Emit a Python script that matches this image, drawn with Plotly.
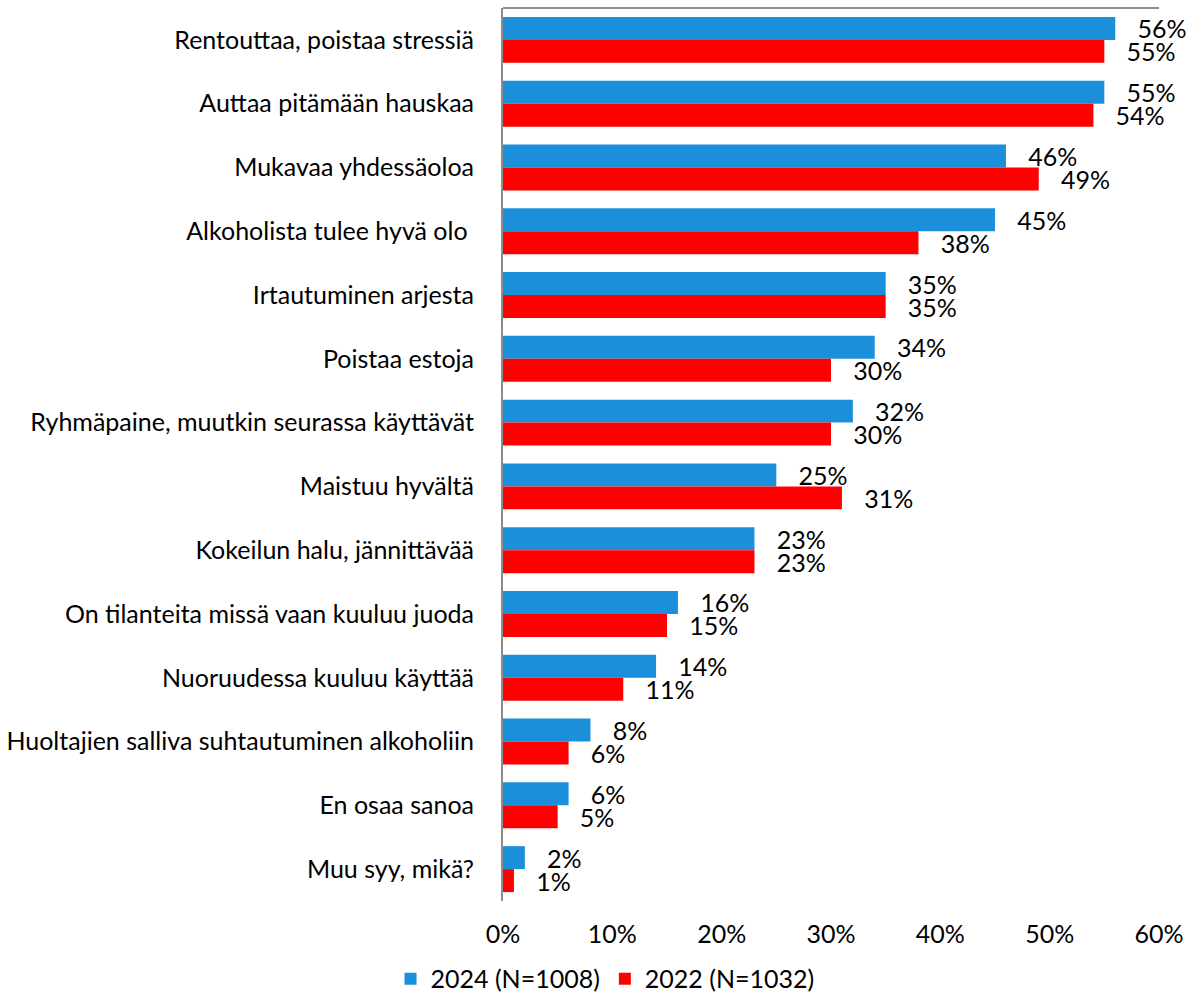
import plotly.graph_objects as go

categories = [
    "Rentouttaa, poistaa stressiä",
    "Auttaa pitämään hauskaa",
    "Mukavaa yhdessäoloa",
    "Alkoholista tulee hyvä olo ",
    "Irtautuminen arjesta",
    "Poistaa estoja",
    "Ryhmäpaine, muutkin seurassa käyttävät",
    "Maistuu hyvältä",
    "Kokeilun halu, jännittävää",
    "On tilanteita missä vaan kuuluu juoda",
    "Nuoruudessa kuuluu käyttää",
    "Huoltajien salliva suhtautuminen alkoholiin",
    "En osaa sanoa",
    "Muu syy, mikä?",
]
values_2024 = [56, 55, 46, 45, 35, 34, 32, 25, 23, 16, 14, 8, 6, 2]
values_2022 = [55, 54, 49, 38, 35, 30, 30, 31, 23, 15, 11, 6, 5, 1]
series_names = ["2024 (N=1008)", "2022 (N=1032)"]
tick_vals = [0, 10, 20, 30, 40, 50, 60]
tick_text = ["0%", "10%", "20%", "30%", "40%", "50%", "60%"]

FONT = "Lato"
FS = 25
BLUE = "#1B8FD9"
RED = "#FF0000"

fig = go.Figure()
for name, vals, col in [(series_names[0], values_2024, BLUE), (series_names[1], values_2022, RED)]:
    fig.add_trace(go.Bar(
        y=categories, x=vals, name=name, orientation="h",
        marker=dict(color=col, line=dict(width=0)),
        text=[str(v) for v in vals],
        texttemplate="\u00a0\u00a0\u00a0%{text}%",
        textposition="outside",
        constraintext="none",
        textfont=dict(family=FONT, size=FS, color="black"),
        cliponaxis=False,
    ))

fig.update_layout(
    width=1191, height=1005,
    paper_bgcolor="white", plot_bgcolor="white",
    barmode="group", bargap=0.28, bargroupgap=0,
    margin=dict(l=503, r=32, t=8, b=104),
    font=dict(family=FONT, size=FS, color="black"),
    showlegend=True,
    legend=dict(orientation="h", xref="container", yref="container",
                x=0.508, xanchor="center", y=0.003, yanchor="bottom",
                font=dict(family=FONT, size=FS, color="black"),
                itemwidth=30, traceorder="normal"),
    uniformtext=dict(mode=False),
)
fig.update_xaxes(range=[0, 60], tickvals=tick_vals, ticktext=tick_text,
                 showgrid=False, zeroline=False, showline=False, automargin=False,
                 ticks="", tickfont=dict(family=FONT, size=FS), ticklabelstandoff=16)
fig.update_yaxes(autorange="reversed", showgrid=False, zeroline=False, automargin=False,
                 showline=True, linecolor="#8C8C8C", linewidth=2,
                 ticks="", ticklabelstandoff=22,
                 tickfont=dict(family=FONT, size=FS))
fig.add_shape(type="line", xref="paper", yref="paper", x0=0, x1=1, y0=1, y1=1,
              line=dict(color="#8C8C8C", width=2))

fig.write_html("out.html", config={"displayModeBar": False},
               post_script="document.body.style.margin='0';")
